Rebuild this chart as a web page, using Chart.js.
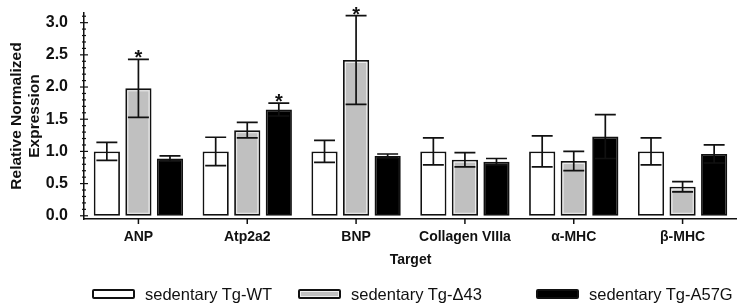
<!DOCTYPE html>
<html>
<head>
<meta charset="utf-8">
<script src="https://cdn.jsdelivr.net/npm/chart.js@4.4.1/dist/chart.umd.min.js"></script>
<style>
  body { margin: 0; background: #fff; }
  #wrap { position: relative; width: 737px; height: 305px; }
  .legend-item { position: absolute; top: 285px; height: 18px; display: flex; align-items: center;
    font-family: 'Liberation Sans', Arial, sans-serif; font-size: 16.5px; color: #111; white-space: nowrap; }
  .legend-box { width: 43px; height: 10px; box-sizing: border-box; border: 2px solid #111; border-radius: 2px; margin-right: 10px; }
</style>
</head>
<body>
<div id="wrap">
  <canvas id="exprChart" width="737" height="305"></canvas>
  <div class="legend-item" style="left:92px"><div class="legend-box" style="background:#fff"></div>sedentary Tg-WT</div>
  <div class="legend-item" style="left:298px"><div class="legend-box" style="background:#c0c0c0; box-shadow: inset 0 0 0 1px #eee"></div>sedentary Tg-Δ43</div>
  <div class="legend-item" style="left:536px"><div class="legend-box" style="background:#000"></div>sedentary Tg-A57G</div>
</div>
<script>
// values
const categories = ['ANP', 'Atp2a2', 'BNP', 'Collagen VIIIa', 'α-MHC', 'β-MHC'];
const wtValues = [1.00, 1.00, 1.00, 1.00, 1.00, 1.00];
const wtErrors = [0.14, 0.22, 0.17, 0.21, 0.24, 0.21];
const d43Values = [1.98, 1.33, 2.42, 0.87, 0.85, 0.45];
const d43Errors = [0.45, 0.12, 0.69, 0.11, 0.15, 0.08];
const a57gValues = [0.89, 1.65, 0.93, 0.84, 1.23, 0.96];
const a57gErrors = [0.04, 0.10, 0.03, 0.05, 0.34, 0.14];
const d43Stars = [true, false, true, false, false, false];
const a57gStars = [false, true, false, false, false, false];
const yTicks = [];
for (let i = 0; i <= 31; i++) yTicks.push(i / 10);

const FONT = "'Liberation Sans', Arial, sans-serif";
const isMajor = v => Math.abs(v * 2 - Math.round(v * 2)) < 1e-6;

const errorBars = [wtErrors, d43Errors, a57gErrors];
const stars = [null, d43Stars, a57gStars];

const extrasPlugin = {
  id: 'extras',
  afterDatasetsDraw(chart) {
    const ctx = chart.ctx;
    const y = chart.scales.y;
    const x = chart.scales.x;
    ctx.save();

    // light inner edge on the grey bars
    chart.getDatasetMeta(1).data.forEach(bar => {
      const w = bar.width;
      ctx.strokeStyle = '#ececec';
      ctx.lineWidth = 1;
      ctx.strokeRect(bar.x - w / 2 + 2.5, bar.y + 2.5, w - 5, bar.base - bar.y - 5);
    });

    // error bars + significance stars
    chart.data.datasets.forEach((ds, d) => {
      const meta = chart.getDatasetMeta(d);
      meta.data.forEach((bar, i) => {
        const v = ds.data[i];
        const e = errorBars[d][i];
        const top = y.getPixelForValue(v + e);
        const bot = y.getPixelForValue(v - e);
        const half = bar.width * 0.4;
        ctx.strokeStyle = '#111';
        ctx.lineWidth = 1.7;
        ctx.beginPath();
        ctx.moveTo(bar.x, top); ctx.lineTo(bar.x, bot);
        ctx.moveTo(bar.x - half, top); ctx.lineTo(bar.x + half, top);
        ctx.moveTo(bar.x - half, bot); ctx.lineTo(bar.x + half, bot);
        ctx.stroke();
        if (stars[d] && stars[d][i]) {
          ctx.fillStyle = '#111';
          ctx.font = 'bold 20px ' + FONT;
          ctx.textAlign = 'center';
          ctx.textBaseline = 'alphabetic';
          ctx.fillText('*', bar.x, top + 5);
        }
      });
    });

    // y axis ticks crossing the axis line
    const ax = y.right;
    ctx.strokeStyle = '#111';
    ctx.lineWidth = 1.2;
    yTicks.forEach(v => {
      const py = y.getPixelForValue(v);
      const major = isMajor(v);
      ctx.beginPath();
      ctx.moveTo(ax - (major ? 4 : 2), py);
      ctx.lineTo(ax + (major ? 4 : 2), py);
      ctx.stroke();
    });

    // x axis ticks under each category
    ctx.lineWidth = 1.5;
    categories.forEach((c, i) => {
      const px = x.getPixelForValue(i);
      ctx.beginPath();
      ctx.moveTo(px, x.top);
      ctx.lineTo(px, x.top + 5);
      ctx.stroke();
    });
    ctx.restore();
  }
};

const barStyle = { borderColor: '#111', borderWidth: 1.8, borderSkipped: false,
  barPercentage: 0.83, categoryPercentage: 0.87 };

new Chart(document.getElementById('exprChart'), {
  type: 'bar',
  data: {
    labels: categories,
    datasets: [
      Object.assign({ label: 'sedentary Tg-WT', data: wtValues, backgroundColor: '#ffffff' }, barStyle),
      Object.assign({ label: 'sedentary Tg-Δ43', data: d43Values, backgroundColor: '#c0c0c0' }, barStyle),
      Object.assign({ label: 'sedentary Tg-A57G', data: a57gValues, backgroundColor: '#000000' }, barStyle)
    ]
  },
  options: {
    responsive: false,
    animation: false,
    layout: { padding: { top: 13, right: 0, bottom: 36, left: 0 } },
    plugins: { legend: { display: false }, tooltip: { enabled: false } },
    scales: {
      x: {
        grid: { display: false, drawTicks: false, tickLength: 0 },
        border: { display: true, color: '#111', width: 1.5 },
        ticks: { color: '#111', font: { family: FONT, size: 14, weight: 'bold' }, padding: 10, maxRotation: 0, autoSkip: false },
        title: { display: true, text: 'Target', color: '#111', font: { family: FONT, size: 14, weight: 'bold' }, padding: { top: 2, bottom: 0 } },
        afterFit: s => { s.height = 50; s.paddingLeft = 0; s.paddingRight = 0; }
      },
      y: {
        min: -0.05,
        max: 3.15,
        afterBuildTicks: axis => { axis.ticks = yTicks.map(v => ({ value: v })); },
        grid: { display: false, drawTicks: false, tickLength: 0 },
        border: { display: true, color: '#111', width: 1.5 },
        ticks: {
          color: '#111', autoSkip: false, padding: 16,
          font: { family: FONT, size: 16, weight: 'bold' },
          callback: v => isMajor(v) ? v.toFixed(1) : ''
        },
        title: { display: true, text: ['Relative Normalized', 'Expression'], color: '#111',
          font: { family: FONT, size: 15.5, weight: 'bold' }, padding: { top: 7, bottom: 0 } },
        afterFit: s => { s.width = 84; s.paddingTop = 0; s.paddingBottom = 0; }
      }
    }
  },
  plugins: [extrasPlugin]
});
</script>
</body>
</html>
